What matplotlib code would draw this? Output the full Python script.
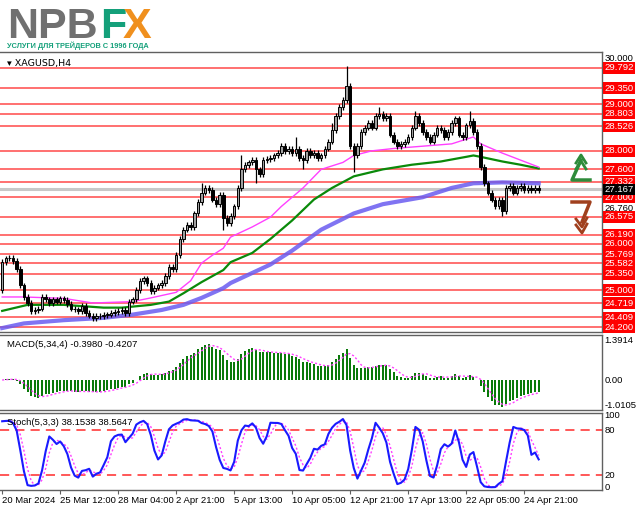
import numpy as np
import matplotlib
matplotlib.use("Agg")
import matplotlib.pyplot as plt
import matplotlib.transforms as mtransforms

plt.rcParams['font.family'] = ['Liberation Sans', 'DejaVu Sans']

# ---------------- data ----------------
closes = [25.6, 25.68, 25.7, 25.62, 25.45, 25.1, 24.85, 24.72, 24.55, 24.57,
          24.6, 24.85, 24.8, 24.72, 24.8, 24.75, 24.82, 24.78, 24.7, 24.6,
          24.58, 24.55, 24.65, 24.5, 24.45, 24.4, 24.45, 24.43, 24.46, 24.47,
          24.5, 24.53, 24.55, 24.57, 24.5, 24.75, 24.8, 25.0, 25.2, 25.25,
          25.15, 24.98, 25.05, 25.1, 25.15, 25.3, 25.5, 25.45, 25.75, 26.1,
          26.3, 26.4, 26.35, 26.65, 26.9, 27.1, 27.2, 27.15, 26.95, 26.85,
          27.05, 26.55, 26.45, 26.6, 26.8, 27.2, 27.6, 27.7, 27.75, 27.8,
          27.6, 27.5, 27.8, 27.82, 27.85, 27.9, 27.95, 28.1, 28.0, 28.05,
          27.95, 28.05, 27.85, 27.8, 28.0, 27.9, 27.95, 27.85, 27.9, 28.05,
          28.2, 28.45, 28.75, 28.95, 29.1, 29.4, 28.1, 27.9, 28.1, 28.4,
          28.5, 28.6, 28.5, 28.75, 28.8, 28.7, 28.75, 28.35, 28.2, 28.1,
          28.15, 28.2, 28.3, 28.5, 28.75, 28.6, 28.4, 28.3, 28.2, 28.35,
          28.5, 28.45, 28.3, 28.4, 28.6, 28.7, 28.35, 28.3, 28.55, 28.65,
          28.4, 28.1, 27.65, 27.3, 27.1, 26.95, 26.8, 26.95, 26.7, 27.2,
          27.25, 27.1, 27.2, 27.25, 27.15, 27.2, 27.15, 27.2, 27.16]
first_open = 25.0
wick = 0.06
high_spikes = {95: 29.82, 91: 28.6, 104: 28.95, 114: 28.85, 129: 28.85, 81: 28.3, 66: 27.9, 55: 27.3}
low_spikes = {61: 26.3, 97: 27.55, 138: 26.6, 83: 27.6, 70: 27.3, 25: 24.35, 0: 24.95}

# moving averages (bar index, value)
ma_fast_x = [0, 6, 17, 25, 36, 41, 48, 52, 55, 58, 61, 63, 69, 74, 77, 83, 88, 94, 97, 102, 108, 116, 124, 130, 132, 138, 143, 148]
ma_fast_y = [24.85, 24.85, 24.82, 24.72, 24.75, 24.83, 24.95, 25.2, 25.58, 25.75, 25.9, 26.14, 26.36, 26.57, 26.8, 27.2, 27.6, 27.75, 27.9, 28.0, 28.05, 28.1, 28.15, 28.3, 28.15, 27.95, 27.8, 27.65]
ma_mid_x = [0, 7, 17, 28, 33, 41, 46, 50, 55, 61, 63, 69, 74, 80, 86, 91, 97, 105, 113, 121, 128, 130, 132, 138, 143, 148]
ma_mid_y = [24.55, 24.68, 24.68, 24.62, 24.62, 24.68, 24.75, 24.93, 25.17, 25.43, 25.6, 25.8, 26.1, 26.5, 26.95, 27.2, 27.45, 27.6, 27.7, 27.77, 27.87, 27.9, 27.87, 27.77, 27.7, 27.62]
ma_slow_x = [0, 6, 17, 28, 36, 44, 50, 55, 61, 63, 74, 80, 88, 97, 105, 116, 124, 130, 138, 148]
ma_slow_y = [24.18, 24.28, 24.35, 24.4, 24.47, 24.57, 24.68, 24.83, 25.04, 25.15, 25.55, 25.85, 26.3, 26.65, 26.85, 27.0, 27.2, 27.3, 27.32, 27.3]

levels = [29.792, 29.350, 29.000, 28.803, 28.526, 28.000, 27.600, 27.332, 27.000,
          26.575, 26.190, 26.000, 25.769, 25.582, 25.350, 25.000, 24.719, 24.409, 24.200]
current_price = 27.167
plain_prices = [30.000, 26.760]

date_idx = [0, 16, 32, 48, 64, 80, 96, 112, 128, 144]
date_labels = ["20 Mar 2024", "25 Mar 12:00", "28 Mar 04:00", "2 Apr 21:00", "5 Apr 13:00",
               "10 Apr 05:00", "12 Apr 21:00", "17 Apr 13:00", "22 Apr 05:00", "24 Apr 21:00"]

# ---------------- derived OHLC / indicators ----------------
c = np.array(closes)
n = len(c)
o = np.concatenate([[first_open], c[:-1]])
h = np.maximum(o, c) + wick
l = np.minimum(o, c) - wick
for k, v in high_spikes.items():
    h[k] = max(h[k], v)
for k, v in low_spikes.items():
    l[k] = min(l[k], v)

def ema(x, p):
    a = 2.0 / (p + 1)
    out = np.empty_like(x)
    out[0] = x[0]
    for i in range(1, len(x)):
        out[i] = a * x[i] + (1 - a) * out[i - 1]
    return out

def sma(x, p):
    out = np.empty_like(x)
    for i in range(len(x)):
        out[i] = x[max(0, i - p + 1):i + 1].mean()
    return out

macd = ema(c, 5) - ema(c, 34)
macd_sig = sma(macd, 4)

hh = np.array([h[max(0, i - 4):i + 1].max() for i in range(n)])
ll = np.array([l[max(0, i - 4):i + 1].min() for i in range(n)])
num = c - ll
den = hh - ll
k_line = np.array([num[max(0, i - 2):i + 1].sum() / max(den[max(0, i - 2):i + 1].sum(), 1e-9) * 100 for i in range(n)])
d_line = sma(k_line, 3)

# ---------------- figure ----------------
W, H = 639, 508
fig = plt.figure(figsize=(W / 100, H / 100), dpi=100)
fig.patch.set_facecolor("white")

def rect(x0, y0, x1, y1):
    return [x0 / W, 1 - y1 / H, (x1 - x0) / W, (y1 - y0) / H]

XR = 602
xlim = (-0.6, XR / 3.625 - 0.6)
ax = fig.add_axes(rect(0, 52, XR, 332))
axm = fig.add_axes(rect(0, 335, XR, 410))
axs = fig.add_axes(rect(0, 413, XR, 490))
for a in (ax, axm, axs):
    a.set_xlim(*xlim)
    a.set_xticks([])
    a.set_yticks([])
    for s in a.spines.values():
        s.set_color("#606060")
        s.set_linewidth(1)
    a.spines["left"].set_visible(False)

FS = 6.8
red = "#ff2a2a"
ax.set_ylim(24.095, 30.13)
for lv in levels:
    ax.axhline(lv, color=red, lw=1.1, alpha=0.85, zorder=1)
ax.axhline(current_price, color="#c8c8c8", lw=2.2, zorder=1)

ax.plot(ma_slow_x, ma_slow_y, color="#6a5cf0", lw=3, alpha=0.85, zorder=2)
ax.plot(ma_mid_x, ma_mid_y, color="#0a8a0a", lw=1.6, zorder=3)
ax.plot(ma_fast_x, ma_fast_y, color="#ff40ff", lw=1.0, zorder=3)

idx = np.arange(n)
ax.vlines(idx, l, h, color="black", lw=0.9, zorder=4)
bw = 0.7
for i in range(n):
    bot = min(o[i], c[i])
    ht = max(abs(c[i] - o[i]), 0.015)
    fc = "#a0a0a0" if c[i] >= o[i] else "black"
    ax.add_patch(plt.Rectangle((i - bw / 2, bot), bw, ht, facecolor=fc, edgecolor="black", lw=0.7, zorder=5))

tr = mtransforms.blended_transform_factory(ax.transAxes, ax.transData)
xl = 1.004
for lv in levels:
    ax.text(xl, lv, f"{lv:.3f}", transform=tr, fontsize=FS, color="white", va="center", ha="left",
            bbox=dict(boxstyle="square,pad=0.15", fc="#ff0000", ec="none"), clip_on=False, zorder=6)
for lv in plain_prices:
    ax.text(xl, lv, f"{lv:.3f}", transform=tr, fontsize=FS, color="black", va="center", ha="left", clip_on=False)
ax.text(xl, current_price, f"{current_price:.3f}", transform=tr, fontsize=FS, color="white", va="center", ha="left",
        bbox=dict(boxstyle="square,pad=0.15", fc="black", ec="none"), clip_on=False, zorder=7)
ax.text(0.012, 0.975, "▾ XAGUSD,H4", transform=ax.transAxes, fontsize=FS, va="top", ha="left",
        family=['DejaVu Sans'])

# MACD
axm.set_ylim(-1.045, 1.568)
axm.bar(idx, macd, width=0.55, color="#0a7a0a", zorder=2)
axm.plot(idx, macd_sig, color="#ff40ff", lw=1, ls=(0, (1.5, 1.5)), zorder=3)
axm.text(0.012, 0.93, "MACD(5,34,4) -0.3980 -0.4207", transform=axm.transAxes, fontsize=FS, va="top")
trm = mtransforms.blended_transform_factory(axm.transAxes, axm.transData)
for v, t in [(1.3914, "1.3914"), (0.0, "0.00"), (-0.88, "-1.0105")]:
    axm.text(xl, v, t, transform=trm, fontsize=FS, va="center", ha="left", clip_on=False)

# Stochastic
axs.set_ylim(0, 102.7)
for lv in (80, 20):
    axs.axhline(lv, color=red, lw=1.1, ls=(0, (6, 4)), zorder=1)
axs.plot(idx, d_line, color="#ff40ff", lw=1, ls=(0, (1.5, 1.5)), zorder=2)
axs.plot(idx, k_line, color="#1a1aff", lw=1.5, zorder=3)
axs.text(0.012, 0.93, "Stoch(5,3,3) 38.1538 38.5647", transform=axs.transAxes, fontsize=FS, va="top")
trs = mtransforms.blended_transform_factory(axs.transAxes, axs.transData)
for v in (100, 80, 20, 0):
    axs.text(xl, v + (4 if v == 0 else 0), str(v), transform=trs, fontsize=FS, va="center", ha="left", clip_on=False)
axs.set_xticks(date_idx)
axs.set_xticklabels(date_labels, fontsize=FS)
axs.tick_params(axis="x", length=3, pad=1, color="#606060")
for lab in axs.get_xticklabels():
    lab.set_ha("left")

# logo
fig.text(7 / W, 1 - 38 / H, "NPB", fontsize=31, fontweight="bold", color="#707070", family="Liberation Sans")
fig.text(100 / W, 1 - 38 / H, "F", fontsize=31, fontweight="bold", color="#14a07a", family="Liberation Sans")
fig.text(123 / W, 1 - 38 / H, "X", fontsize=31, fontweight="bold", color="#f0901e", family="Liberation Sans")
fig.text(7 / W, 1 - 48.5 / H, "УСЛУГИ ДЛЯ ТРЕЙДЕРОВ С 1996 ГОДА", fontsize=5.3, fontweight="bold", color="#14a07a",
         family="Liberation Sans")

# signal arrows (pixel coords)
def P(x, y):
    return (x / W, 1 - y / H)
g = "#2e8b3a"
fig.lines.append(plt.Line2D([P(590, 180)[0], P(572, 180)[0], P(581, 160)[0]],
                            [P(590, 180)[1], P(572, 180)[1], P(581, 160)[1]], color=g, lw=2.5, transform=fig.transFigure))
for dy in (0, 6):
    fig.lines.append(plt.Line2D([P(576, 163 + dy)[0], P(581, 155 + dy)[0], P(586, 163 + dy)[0]],
                                [P(576, 163 + dy)[1], P(581, 155 + dy)[1], P(586, 163 + dy)[1]], color=g, lw=2, transform=fig.transFigure))
b = "#a0401e"
fig.lines.append(plt.Line2D([P(572, 202)[0], P(590, 202)[0], P(582, 222)[0]],
                            [P(572, 202)[1], P(590, 202)[1], P(582, 222)[1]], color=b, lw=2.5, transform=fig.transFigure))
for dy in (0, 6):
    fig.lines.append(plt.Line2D([P(576, 219 + dy)[0], P(582, 227 + dy)[0], P(587, 218 + dy)[0]],
                                [P(576, 219 + dy)[1], P(582, 227 + dy)[1], P(587, 218 + dy)[1]], color=b, lw=2, transform=fig.transFigure))

fig.savefig("out.png", dpi=100)
